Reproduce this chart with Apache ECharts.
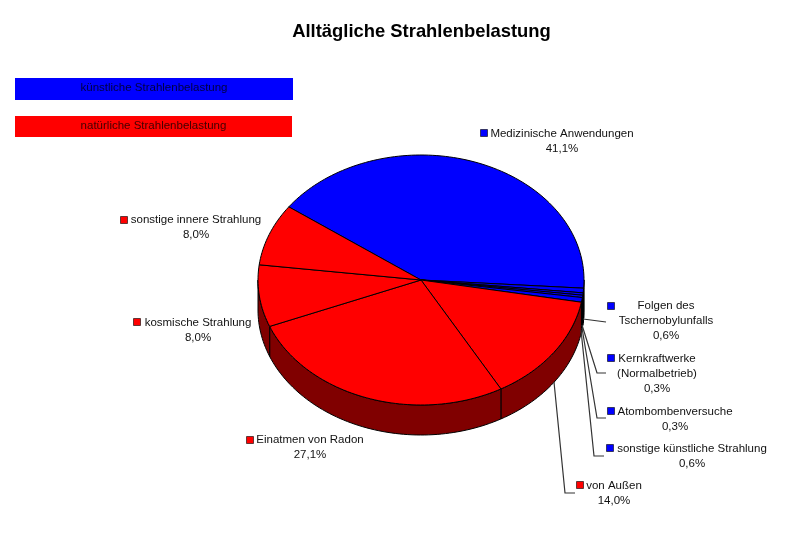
<!DOCTYPE html>
<html><head><meta charset="utf-8">
<style>html,body{margin:0;padding:0;background:#fff}#c{width:800px;height:533px}</style>
<script src="https://cdn.jsdelivr.net/npm/echarts@6/dist/echarts.min.js"></script>
</head><body><div id="c"></div>
<script>
const chartTitle = 'Alltägliche Strahlenbelastung';
const groupNames = ['künstliche Strahlenbelastung', 'natürliche Strahlenbelastung'];
const categories = ['Medizinische Anwendungen', 'Folgen des\nTschernobylunfalls', 'Kernkraftwerke\n(Normalbetrieb)', 'Atombombenversuche', 'sonstige künstliche Strahlung', 'von Außen', 'Einatmen von Radon', 'kosmische Strahlung', 'sonstige innere Strahlung'];
const values = [41.1, 0.6, 0.3, 0.3, 0.6, 14.0, 27.1, 8.0, 8.0];
const groups = [0, 0, 0, 0, 0, 1, 1, 1, 1];

const topColors = ['#0000ff', '#ff0000'];
const wallColors = ['#000060', '#800000'];
const geom = { cx: 421, cy: 280, rx: 163, ry: 125, depth: 30, start: -54.2 };
// label layout: text centre x, first line y, marker x, marker y, leader polyline
const labelLayout = [
  { tx: 562, ty: 134, mx: 484, my: 133, line: null },
  { tx: 666, ty: 306, mx: 611, my: 306, line: [[583, 319], [606, 322]] },
  { tx: 657, ty: 359, mx: 611, my: 358, line: [[582, 325], [597, 373], [606, 373]] },
  { tx: 675, ty: 412, mx: 611, my: 411, line: [[582, 328], [597, 418], [606, 418]] },
  { tx: 692, ty: 449, mx: 610, my: 448, line: [[581, 330], [594, 456], [604, 456]] },
  { tx: 614, ty: 486, mx: 580, my: 485, line: [[554, 382], [565, 493], [575, 493]] },
  { tx: 310, ty: 440, mx: 250, my: 440, line: null },
  { tx: 198, ty: 323, mx: 137, my: 322, line: null },
  { tx: 196, ty: 220, mx: 124, my: 220, line: null }
];
const legendLayout = [{ x: 15, y: 78, w: 278, h: 22 }, { x: 15, y: 116, w: 277, h: 21 }];

const total = values.reduce((a, b) => a + b, 0);
const FONT = '11.5px "Liberation Sans", Arial, sans-serif';
function pt(deg, dy) {
  const r = deg * Math.PI / 180;
  return [geom.cx + geom.rx * Math.sin(r), geom.cy - geom.ry * Math.cos(r) + (dy || 0)];
}
function arc(a0, a1, dy) {
  const n = Math.max(2, Math.ceil(Math.abs(a1 - a0) / 1.5));
  const out = [];
  for (let i = 0; i <= n; i++) out.push(pt(a0 + (a1 - a0) * i / n, dy));
  return out;
}
function renderItem(params, api) {
  const i = params.dataIndex;
  let before = 0;
  for (let k = 0; k < i; k++) before += values[k];
  const a0 = geom.start + before / total * 360;
  const a1 = a0 + api.value(0) / total * 360;
  const g = groups[i];
  const children = [];
  // front wall: the part of the slice's rim between 90 and 270 degrees of the ellipse
  const w0 = Math.max(a0, 90), w1 = Math.min(a1, 270);
  if (w1 > w0) {
    const wall = arc(w0, w1, 0).concat(arc(w1, w0, geom.depth));
    children.push({ type: 'polygon', z2: 1, shape: { points: wall }, style: { fill: wallColors[g], stroke: '#000', lineWidth: 1 } });
  }
  children.push({ type: 'polygon', z2: 2, shape: { points: [[geom.cx, geom.cy]].concat(arc(a0, a1, 0)) }, style: { fill: topColors[g], stroke: '#000', lineWidth: 1 } });
  const L = labelLayout[i];
  if (L.line) children.push({ type: 'polyline', z2: 3, shape: { points: L.line }, style: { fill: null, stroke: '#333', lineWidth: 1.2 } });
  children.push({ type: 'rect', z2: 4, shape: { x: L.mx - 3.5, y: L.my - 3.5, width: 7, height: 7 }, style: { fill: topColors[g], stroke: '#000', lineWidth: 0.6 } });
  const lines = categories[i].split('\n');
  lines.push(api.value(0).toFixed(1).replace('.', ',') + '%');
  lines.forEach((t, n) => children.push({ type: 'text', z2: 5, style: { text: t, x: L.tx, y: L.ty + n * 15, align: 'center', verticalAlign: 'middle', font: FONT, fill: '#111' } }));
  return { type: 'group', children };
}
const chart = echarts.init(document.getElementById('c'), null, { renderer: 'canvas' });
chart.setOption({
  animation: false,
  title: { text: chartTitle, left: 416.5, top: 18, textAlign: 'center', textStyle: { fontFamily: 'Liberation Sans', fontSize: 18.4, fontWeight: 'bold', color: '#000' } },
  graphic: groupNames.map((name, i) => ({
    type: 'rect', left: legendLayout[i].x, top: legendLayout[i].y, silent: true,
    shape: { width: legendLayout[i].w, height: legendLayout[i].h }, style: { fill: topColors[i] },
    textContent: { style: { text: name, font: FONT, fill: '#000', opacity: 0.75 } },
    textConfig: { position: 'inside', offset: [0, -1] }
  })),
  series: [{ type: 'custom', coordinateSystem: 'none', silent: true, clip: false, renderItem, data: values.map((v, i) => ({ name: categories[i], value: [v] })) }]
});
</script></body></html>
